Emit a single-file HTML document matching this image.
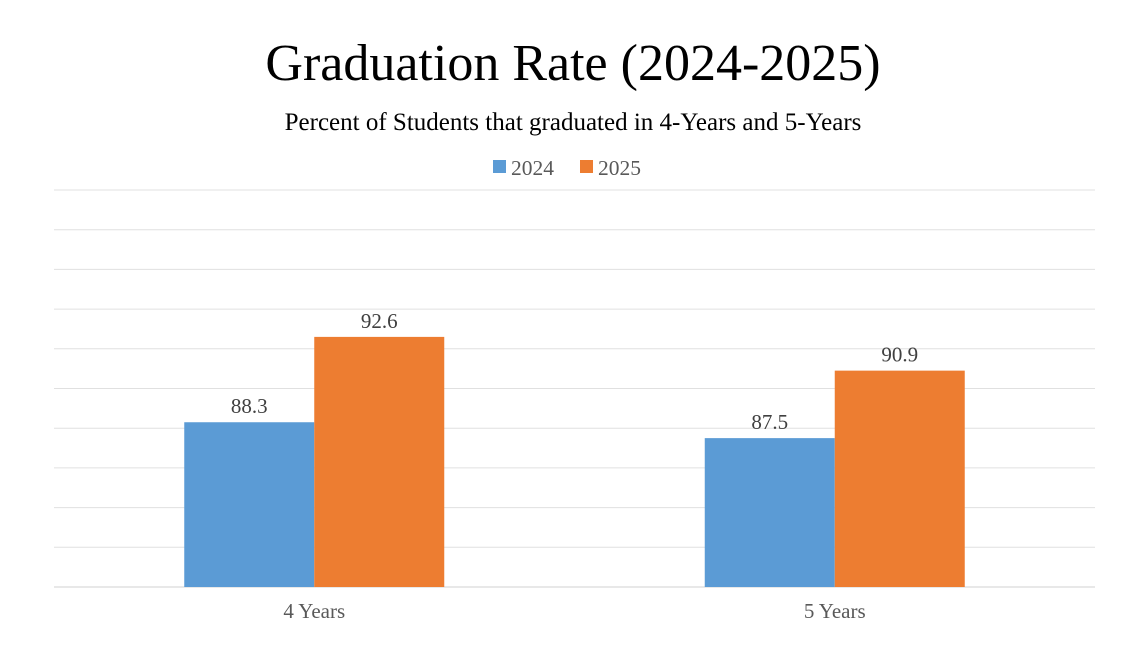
<!DOCTYPE html>
<html><head><meta charset="utf-8"><style>
body{margin:0;background:#fff;}
svg text{font-family:"Liberation Serif",serif;}
</style></head><body>
<svg width="1146" height="646">
<rect width="1146" height="646" fill="#fff"/>
<text x="573" y="80" font-size="52" text-anchor="middle" fill="#000">Graduation Rate (2024-2025)</text>
<text x="573" y="130" font-size="25" text-anchor="middle" fill="#000">Percent of Students that graduated in 4-Years and 5-Years</text>
<g>
<rect x="493" y="160" width="13" height="13" fill="#5b9bd5"/>
<text x="511" y="175" font-size="21.5" fill="#595959">2024</text>
<rect x="580" y="160" width="13" height="13" fill="#ed7d31"/>
<text x="598" y="175" font-size="21.5" fill="#595959">2025</text>
</g>
<g id="grid"></g>
<g id="bars"></g>
<g id="xlabels"></g>
</svg>
<script>
const categories = ["4 Years", "5 Years"];
const series2024 = [88.3, 87.5];
const series2025 = [92.6, 90.9];
const yMin = 80, yMax = 100, yStep = 2;
const ns = "http://www.w3.org/2000/svg";
const plotLeft = 54, plotRight = 1095, plotTop = 190, plotBottom = 587;
function yScale(v) { return plotBottom - (v - yMin) / (yMax - yMin) * (plotBottom - plotTop); }
const catW = (plotRight - plotLeft) / categories.length;
const barW = 130;
const grid = document.getElementById('grid');
for (let v = yMin; v <= yMax + 1e-9; v += yStep) {
  const l = document.createElementNS(ns, 'line');
  l.setAttribute('x1', plotLeft); l.setAttribute('x2', plotRight);
  l.setAttribute('y1', yScale(v)); l.setAttribute('y2', yScale(v));
  l.setAttribute('stroke', v === yMin ? '#d0d0d0' : '#e0e0e0');
  l.setAttribute('stroke-width', 1);
  
  
  grid.appendChild(l);
}
const bars = document.getElementById('bars');
const xl = document.getElementById('xlabels');
const seriesList = [[series2024, '#5b9bd5', '2024'], [series2025, '#ed7d31', '2025']];
categories.forEach(function (c, i) {
  const cx = plotLeft + catW * (i + 0.5);
  seriesList.forEach(function (sv, s) {
    const vals = sv[0], col = sv[1], nm = sv[2];
    const x0 = cx - barW + s * barW;
    const r = document.createElementNS(ns, 'rect');
    r.setAttribute('x', x0); r.setAttribute('y', yScale(vals[i]));
    r.setAttribute('width', barW); r.setAttribute('height', plotBottom - yScale(vals[i]));
    r.setAttribute('fill', col);
    
    
    bars.appendChild(r);
    const t = document.createElementNS(ns, 'text');
    t.setAttribute('x', x0 + barW / 2); t.setAttribute('y', yScale(vals[i]) - 9);
    t.setAttribute('text-anchor', 'middle'); t.setAttribute('font-size', '21');
    t.setAttribute('fill', '#404040');
    t.textContent = vals[i].toFixed(1);
    
    
    bars.appendChild(t);
  });
  const lt = document.createElementNS(ns, 'text');
  lt.setAttribute('x', cx); lt.setAttribute('y', 618);
  lt.setAttribute('text-anchor', 'middle'); lt.setAttribute('font-size', '21');
  lt.setAttribute('fill', '#595959');
  lt.textContent = c;
  
  
  xl.appendChild(lt);
});
</script>
</body></html>
